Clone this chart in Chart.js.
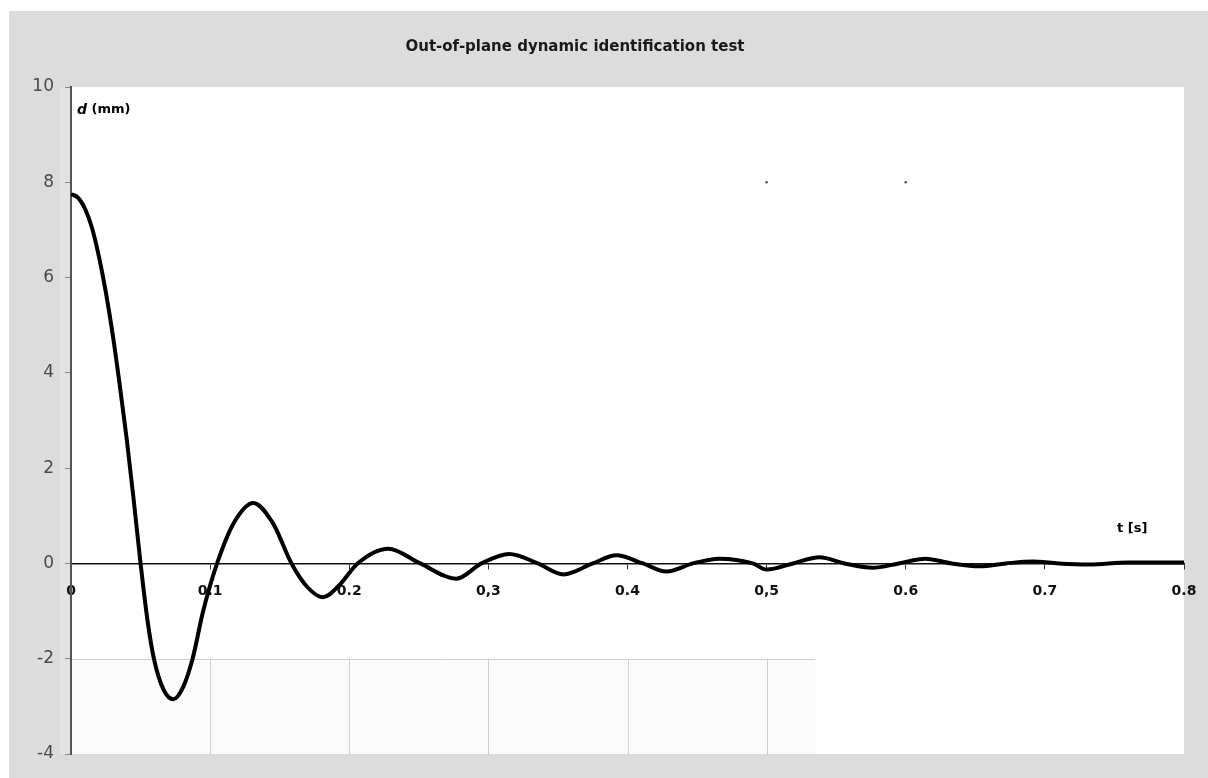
<!DOCTYPE html>
<html>
<head>
<meta charset="utf-8">
<script src="https://cdn.jsdelivr.net/npm/chart.js@4/dist/chart.umd.min.js"></script>
<style>
  html, body { margin: 0; padding: 0; background: #ffffff; }
  #wrap { width: 1208px; height: 778px; position: relative; }
  canvas { display: block; }
</style>
</head>
<body>
<div id="wrap"><canvas id="chart" width="1208" height="778"></canvas></div>
<script>
// Free-vibration record: time (s) and out-of-plane displacement (mm)
const time = [
  0, 0.005, 0.010, 0.015, 0.020, 0.025, 0.030, 0.035, 0.040, 0.045, 0.050,
  0.055, 0.0596, 0.0665, 0.0735, 0.0805, 0.0874, 0.095, 0.105,
  0.117, 0.131, 0.145, 0.1585, 0.170, 0.181, 0.193, 0.206,
  0.228, 0.251, 0.277, 0.295, 0.315, 0.3355, 0.354, 0.375,
  0.392, 0.411, 0.428, 0.447, 0.466, 0.490, 0.500, 0.519,
  0.538, 0.556, 0.576, 0.595, 0.614, 0.633, 0.653, 0.672,
  0.691, 0.710, 0.732, 0.760, 0.800
];
const displacement = [
  7.75, 7.68, 7.45, 7.05, 6.45, 5.70, 4.80, 3.75, 2.62, 1.35, 0.0,
  -1.2, -2.0, -2.65, -2.85, -2.6, -2.0, -1.0, 0.0,
  0.85, 1.27, 0.85, 0.0, -0.5, -0.71, -0.45, 0.0,
  0.31, 0.0, -0.32, 0.0, 0.20, 0.0, -0.23, 0.0,
  0.17, 0.0, -0.17, 0.0, 0.10, 0.0, -0.13, 0.0,
  0.13, 0.0, -0.09, 0.0, 0.10, 0.0, -0.06, 0.0,
  0.04, 0.0, -0.02, 0.02, 0.02
];

// Two stray reference points
const markerTime = [0.5, 0.6];
const markerValue = [8, 8];

// Axis tick labels as printed
const xTickLabels = ['0', '0.1', '0.2', '0,3', '0.4', '0,5', '0.6', '0.7', '0.8'];

const chartTitle = 'Out-of-plane dynamic identification test';
const yAxisSymbol = 'd';
const yAxisUnit = ' (mm)';
const xAxisText = 't [s]';

// Leftover gridded patch in the lower-left part of the plot
const patchXMax = 0.535;
const patchYMin = -4;
const patchYMax = -2;
const patchGridX = [0.1, 0.2, 0.3, 0.4, 0.5];

const backdrop = {
  id: 'backdrop',
  beforeDraw(chart) {
    const { ctx, chartArea: a, scales: { x, y } } = chart;
    ctx.save();
    ctx.fillStyle = '#ffffff';
    ctx.fillRect(0, 0, chart.width, chart.height);
    ctx.fillStyle = '#dcdcdc';
    ctx.fillRect(9, 11, chart.width - 9, chart.height - 11);
    // soft band beside the vertical axis
    ctx.fillStyle = '#e3e3e3';
    ctx.fillRect(a.left - 11, a.top, 11, a.bottom - a.top);
    ctx.fillStyle = '#ffffff';
    ctx.fillRect(a.left, a.top, a.right - a.left, a.bottom - a.top);

    // gridded patch
    const px0 = x.getPixelForValue(0);
    const px1 = x.getPixelForValue(patchXMax);
    const py0 = y.getPixelForValue(patchYMax);
    const py1 = y.getPixelForValue(patchYMin);
    ctx.fillStyle = '#fbfbfb';
    ctx.fillRect(px0, py0, px1 - px0, py1 - py0);
    ctx.strokeStyle = '#cfcfcf';
    ctx.lineWidth = 1;
    ctx.beginPath();
    ctx.moveTo(px0, Math.round(py0) + 0.5);
    ctx.lineTo(px1, Math.round(py0) + 0.5);
    patchGridX.forEach(v => {
      const gx = Math.round(x.getPixelForValue(v)) + 0.5;
      ctx.moveTo(gx, py0);
      ctx.lineTo(gx, py1);
    });
    ctx.stroke();
    ctx.restore();
  },
  afterDraw(chart) {
    const { ctx, chartArea: a } = chart;
    ctx.save();
    ctx.fillStyle = '#1a1a1a';
    ctx.textBaseline = 'middle';
    ctx.textAlign = 'center';
    ctx.font = 'bold 15px "DejaVu Sans", sans-serif';
    ctx.fillText(chartTitle, 575, 47);

    // vertical axis caption
    ctx.textAlign = 'left';
    ctx.font = 'italic bold 14px "DejaVu Sans", sans-serif';
    ctx.fillStyle = '#000';
    ctx.fillText(yAxisSymbol, a.left + 6, 110);
    const w = ctx.measureText(yAxisSymbol).width;
    ctx.font = 'bold 13px "DejaVu Sans", sans-serif';
    ctx.fillText(yAxisUnit, a.left + 6 + w, 110);

    // horizontal axis caption
    ctx.font = 'bold 13px "DejaVu Sans", sans-serif';
    ctx.fillText(xAxisText, 1117, 529);
    ctx.restore();
  }
};

new Chart(document.getElementById('chart'), {
  type: 'line',
  data: {
    datasets: [
      {
        label: 'd',
        data: time.map((t, i) => ({ x: t, y: displacement[i] })),
        borderColor: '#000000',
        borderWidth: 4,
        pointRadius: 0,
        fill: false,
        cubicInterpolationMode: 'monotone'
      },
      {
        label: 'markers',
        data: markerTime.map((t, i) => ({ x: t, y: markerValue[i] })),
        showLine: false,
        pointRadius: 1.3,
        pointBorderWidth: 0,
        pointBackgroundColor: '#555555'
      }
    ]
  },
  options: {
    responsive: false,
    animation: false,
    devicePixelRatio: 1,
    layout: { padding: { left: 9, top: 87, right: 24, bottom: 24 } },
    plugins: {
      legend: { display: false },
      tooltip: { enabled: false },
      title: { display: false }
    },
    scales: {
      x: {
        type: 'linear',
        min: 0,
        max: 0.8,
        position: { y: 0 },
        afterFit(scale) {
          scale.height = 0;
          scale.paddingLeft = 0;
          scale.paddingRight = 0;
        },
        ticks: {
          stepSize: 0.1,
          autoSkip: false,
          maxRotation: 0,
          padding: 15,
          color: '#111111',
          font: { family: '"DejaVu Sans", sans-serif', size: 14, weight: 'bold' },
          callback: (v, i) => xTickLabels[i]
        },
        grid: { drawOnChartArea: false, drawTicks: true, tickLength: 5, color: '#333333' },
        border: { color: '#111111', width: 1.5 }
      },
      y: {
        min: -4,
        max: 10,
        afterFit(scale) { scale.width = 62; },
        ticks: {
          stepSize: 2,
          padding: 11,
          color: '#4a4a4a',
          font: { family: '"DejaVu Sans", sans-serif', size: 17 }
        },
        grid: { drawOnChartArea: false, drawTicks: true, tickLength: 6, color: '#8a8a8a' },
        border: { color: '#555555', width: 2 }
      }
    }
  },
  plugins: [backdrop]
});
</script>
</body>
</html>
